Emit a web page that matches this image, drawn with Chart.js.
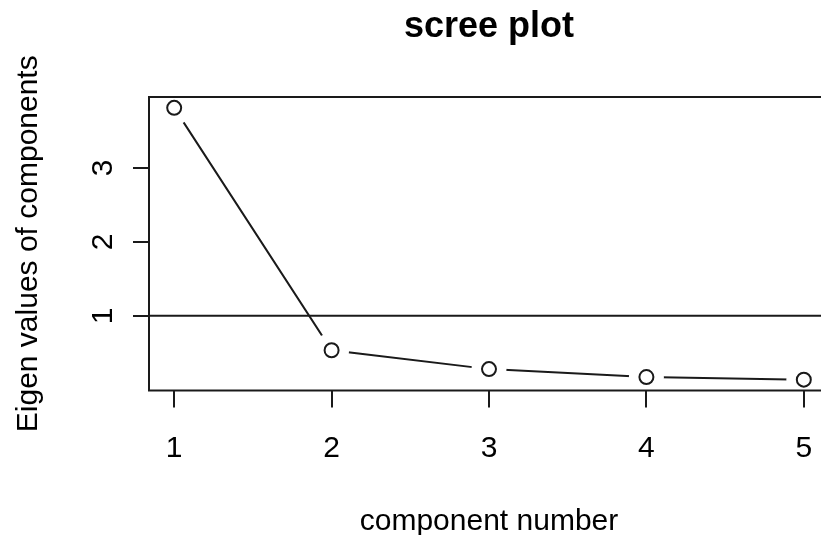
<!DOCTYPE html>
<html>
<head>
<meta charset="utf-8">
<title>scree plot</title>
<script src="https://cdn.jsdelivr.net/npm/chart.js@4.4.1/dist/chart.umd.min.js"></script>
<style>
  html, body { margin: 0; padding: 0; background: #fff; overflow: hidden; }
  #chart { display: block; }
</style>
</head>
<body>
<canvas id="chart" width="850" height="535"></canvas>
<script>
// Données
const components = [1, 2, 3, 4, 5];
const eigenValues = [3.81, 0.535, 0.28, 0.172, 0.138];
const xTicks = [1, 2, 3, 4, 5];
const yTicks = [1, 2, 3];
const refLine = 1; // abline(h = 1)

const FONT = 'Liberation Sans, Arial, Helvetica, sans-serif';
const INK = '#1a1a1a';

// Étendue des axes à la façon de R (4 % de marge)
const rRange = (values) => {
  const lo = Math.min(...values);
  const hi = Math.max(...values);
  const pad = (hi - lo) * 0.04;
  return { min: lo - pad, max: hi + pad };
};
const xRange = rRange(components);
const yRange = rRange(eigenValues);

const points = components.map((c, i) => ({ x: c, y: eigenValues[i] }));

// Cadre, ligne de référence, titre et graduations verticales tournées
const rDecor = {
  id: 'rDecor',
  afterDatasetsDraw(chart) {
    const { ctx, chartArea: a, scales: { y } } = chart;
    const yy = y.getPixelForValue(refLine);
    ctx.save();
    ctx.strokeStyle = INK;
    ctx.lineWidth = 2;
    ctx.beginPath();
    ctx.moveTo(a.left, yy);
    ctx.lineTo(a.right, yy);
    ctx.stroke();
    ctx.restore();
  },
  afterDraw(chart) {
    const { ctx, chartArea: a, scales: { y } } = chart;
    ctx.save();
    ctx.strokeStyle = INK;
    ctx.lineWidth = 2;
    ctx.strokeRect(a.left, a.top, a.right - a.left, a.bottom - a.top);

    ctx.fillStyle = '#000';
    ctx.textAlign = 'center';
    ctx.textBaseline = 'alphabetic';
    ctx.font = 'bold 36px ' + FONT;
    ctx.fillText('scree plot', (a.left + a.right) / 2, 37);

    ctx.font = '30px ' + FONT;
    y.ticks.forEach(t => {
      ctx.save();
      ctx.translate(112, y.getPixelForValue(t.value));
      ctx.rotate(-Math.PI / 2);
      ctx.fillText(t.label, 0, 0);
      ctx.restore();
    });
    ctx.restore();
  }
};

new Chart(document.getElementById('chart'), {
  type: 'scatter',
  data: {
    datasets: [
      {
        // cercles
        data: points,
        showLine: false,
        pointRadius: 7,
        pointBorderWidth: 2,
        pointBorderColor: INK,
        pointBackgroundColor: '#fff',
        order: 1
      },
      {
        // masque blanc pour les trous du type = "b"
        data: points,
        showLine: false,
        pointRadius: 17.5,
        pointBorderWidth: 0,
        pointBackgroundColor: '#fff',
        clip: 0,
        order: 2
      },
      {
        data: points,
        showLine: true,
        borderColor: INK,
        borderWidth: 2,
        pointRadius: 0,
        tension: 0,
        order: 3
      }
    ]
  },
  options: {
    responsive: false,
    animation: false,
    layout: { padding: { top: 97, right: 850 - 829, left: 0, bottom: 0 } },
    plugins: {
      legend: { display: false },
      tooltip: { enabled: false }
    },
    scales: {
      x: {
        type: 'linear',
        min: xRange.min,
        max: xRange.max,
        z: 1,
        afterBuildTicks: (scale) => { scale.ticks = xTicks.map(v => ({ value: v })); },
        afterFit: (scale) => { scale.height = 535 - 390.5; },
        ticks: {
          color: '#000',
          font: { family: FONT, size: 30 },
          padding: 23,
          maxRotation: 0
        },
        grid: { drawOnChartArea: false, tickLength: 17, lineWidth: 2, color: INK },
        border: { display: false },
        title: {
          display: true,
          text: 'component number',
          color: '#000',
          font: { family: FONT, size: 30 },
          padding: { top: 0, bottom: -4.5 }
        }
      },
      y: {
        type: 'linear',
        min: yRange.min,
        max: yRange.max,
        z: 1,
        afterBuildTicks: (scale) => { scale.ticks = yTicks.map(v => ({ value: v })); },
        afterFit: (scale) => { scale.width = 149; },
        ticks: { display: false },
        grid: { drawOnChartArea: false, tickLength: 16, lineWidth: 2, color: INK },
        border: { display: false },
        title: {
          display: true,
          text: 'Eigen values of components',
          color: '#000',
          font: { family: FONT, size: 30 },
          padding: { top: 10.6, bottom: 0 }
        }
      }
    }
  },
  plugins: [rDecor]
});
</script>
</body>
</html>
